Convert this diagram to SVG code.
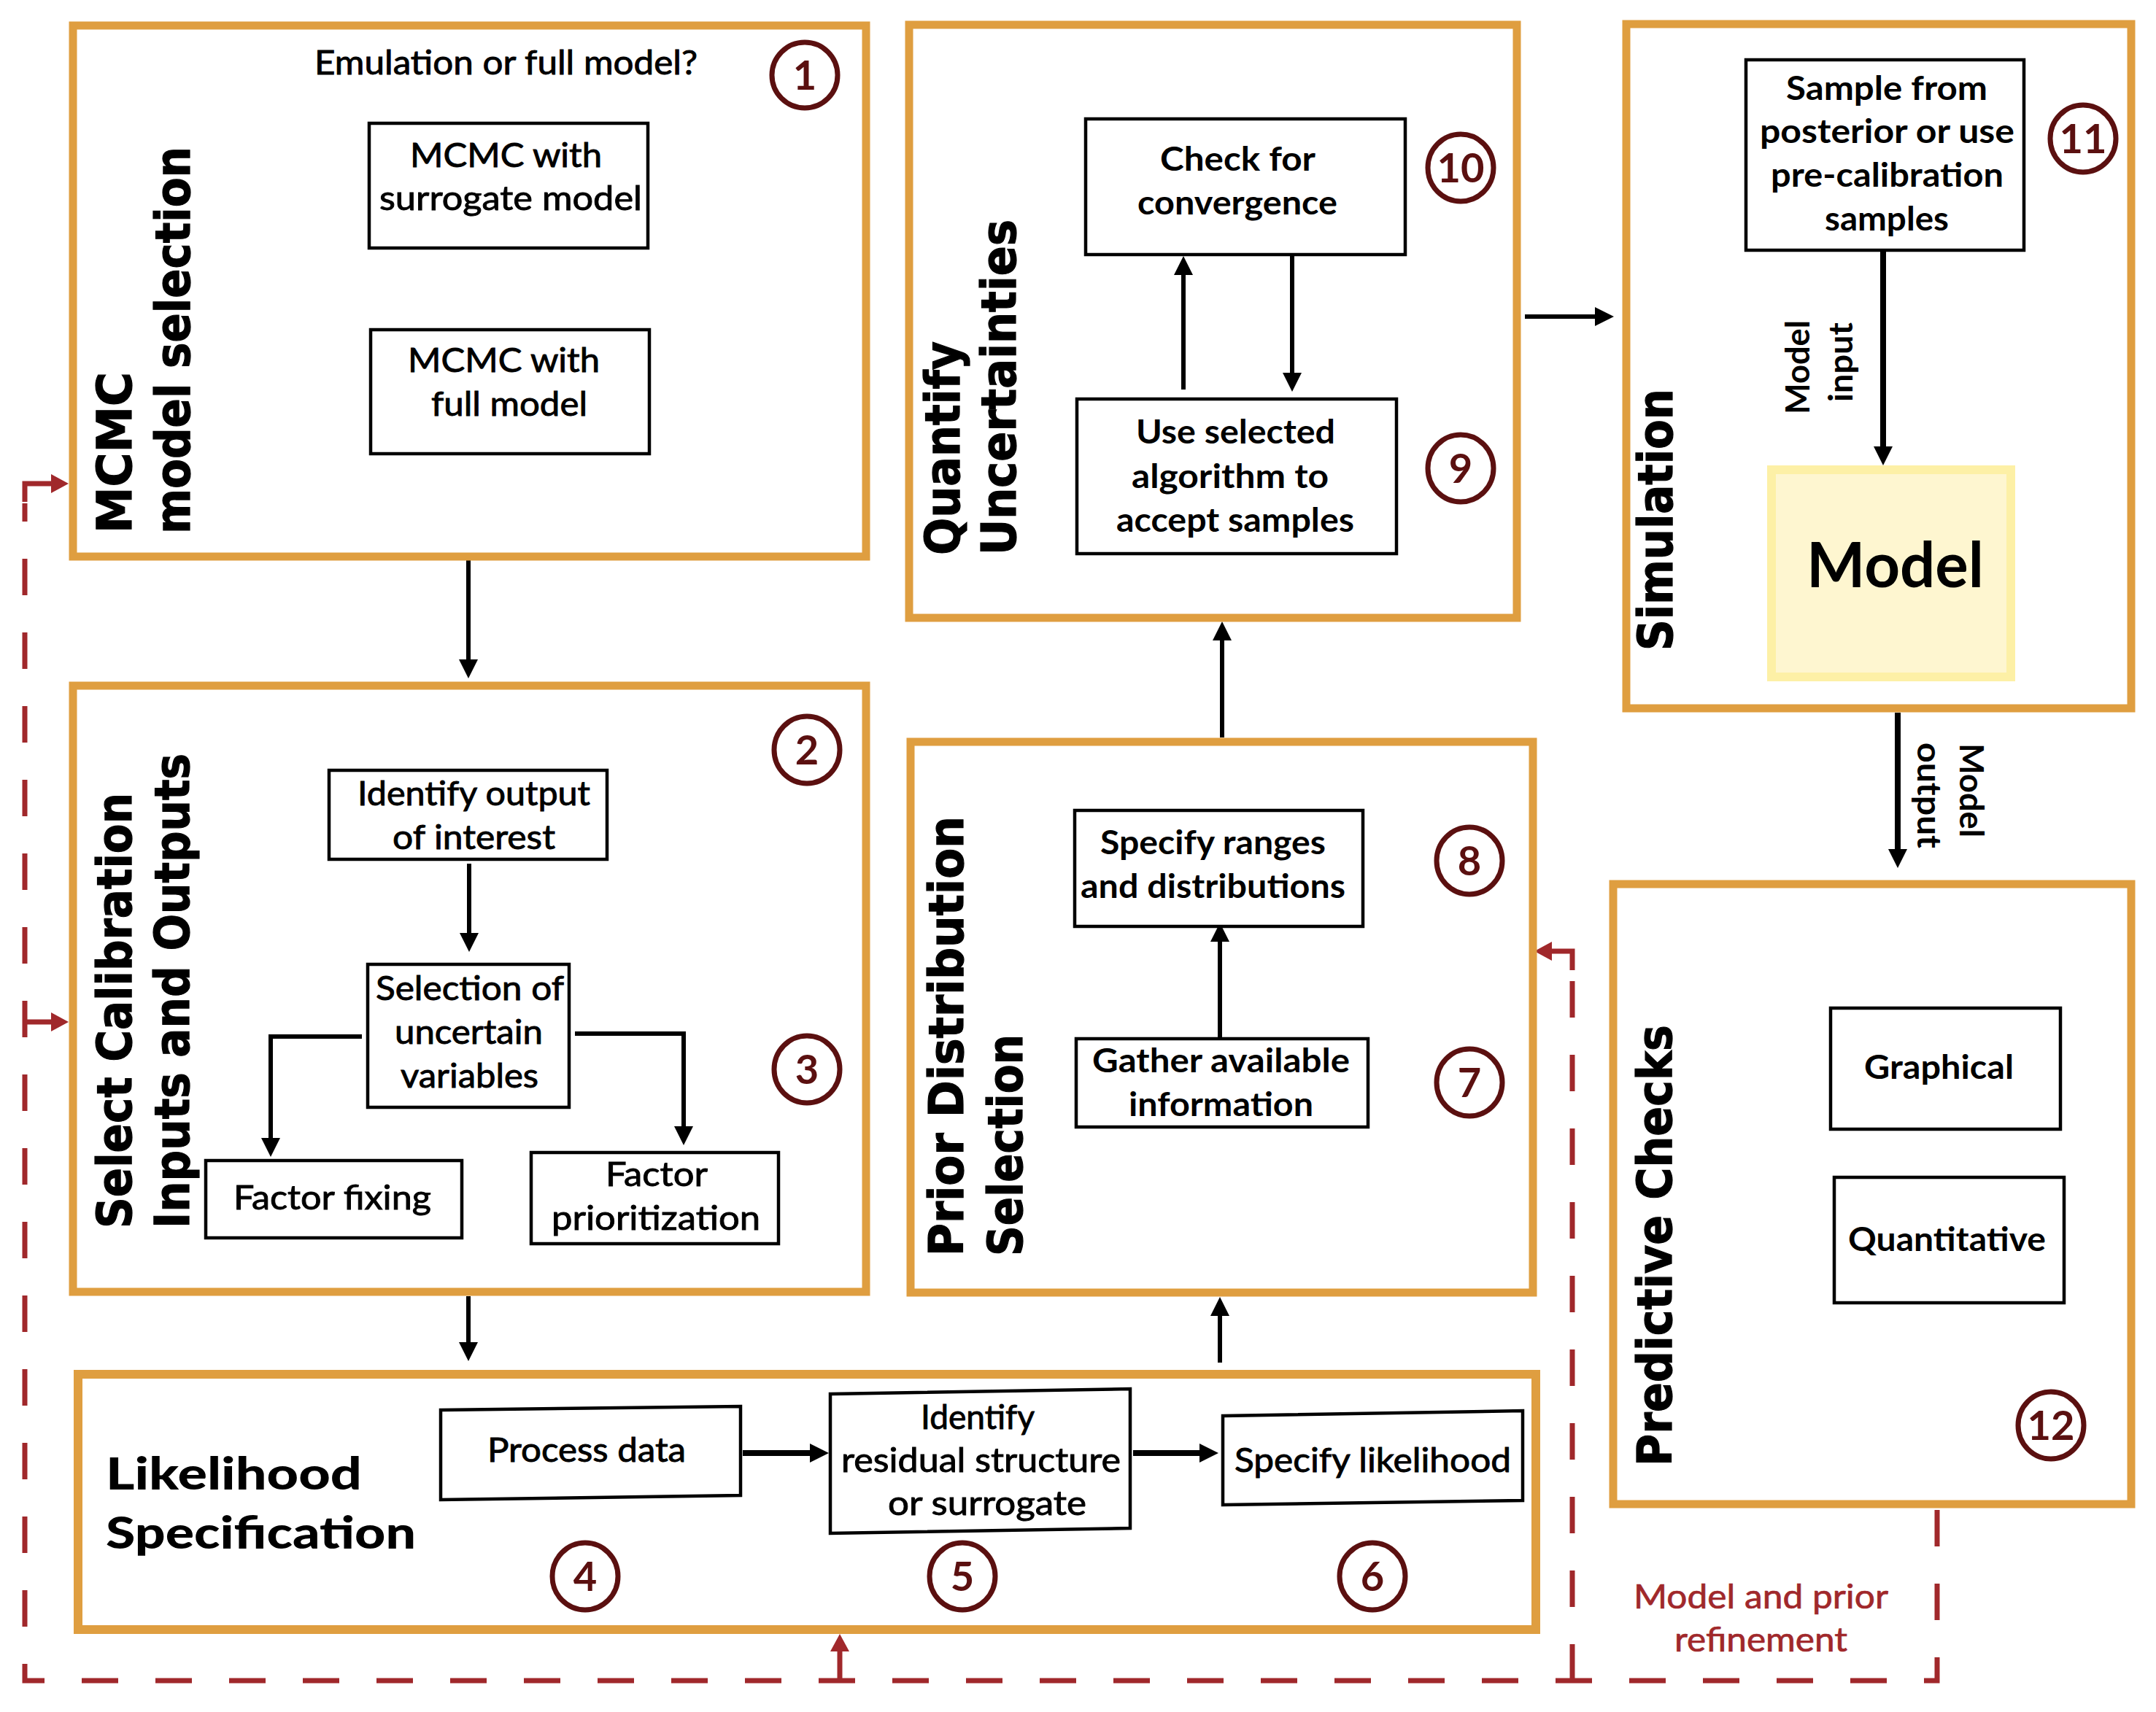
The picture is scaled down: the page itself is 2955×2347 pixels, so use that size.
<svg xmlns="http://www.w3.org/2000/svg" width="2955" height="2347" viewBox="0 0 2955 2347">
<style>
.ob{fill:none;stroke:#DF9E40;stroke-width:11}
.bb{fill:#fff;stroke:#000;stroke-width:4.5}
.circ{fill:none;stroke:#5B1010;stroke-width:7}
.num{font-family:Lato,'Open Sans',sans-serif;font-weight:700;font-size:56px;fill:#5B1010;text-anchor:middle}
.t{font-family:Lato,'Open Sans',sans-serif;font-size:46px;fill:#000;stroke:#000;stroke-width:0.9}
.tb{font-family:Lato,'Open Sans',sans-serif;font-weight:700;font-size:46px;fill:#000}
.vt{font-family:'DejaVu Sans',Verdana,sans-serif;font-weight:700;font-size:66px;fill:#000;stroke:#000;stroke-width:1.2}
.lt{font-family:Lato,'Open Sans',sans-serif;font-weight:900;font-size:60px;fill:#000}
.rt{font-family:Lato,'Open Sans',sans-serif;font-size:46px;fill:#A0282B;stroke:#A0282B;stroke-width:0.7}
.ar{fill:none;stroke:#000;stroke-width:6;marker-end:url(#ah)}
.ar8{fill:none;stroke:#000;stroke-width:8;marker-end:url(#ah)}
.rd{fill:none;stroke:#A0282B;stroke-width:7;stroke-dasharray:50 51}
.ra{fill:none;stroke:#A0282B;stroke-width:7;marker-end:url(#ahr)}
</style>
<defs>
<marker id="ah" markerUnits="userSpaceOnUse" markerWidth="26" markerHeight="26" viewBox="0 0 26 26" refX="14" refY="13" orient="auto"><path d="M0,0 L26,13 L0,26 z" fill="#000"/></marker>
<marker id="ahr" markerUnits="userSpaceOnUse" markerWidth="24" markerHeight="26" viewBox="0 0 24 26" refX="14" refY="13" orient="auto"><path d="M0,0 L24,13 L0,26 z" fill="#A0282B"/></marker>
</defs>
<rect width="2955" height="2347" fill="#fff"/>

<g id="connectors">
<path class="ar" d="M642,768 V918"/>
<path class="ar" d="M642,1777 V1854"/>
<path class="ar" d="M1672,1868 V1790"/>
<path class="ar" d="M1675,1011 V864"/>
<path class="ar" d="M2090,434 H2200"/>
<path class="ar8" d="M2581,344 V626"/>
<path class="ar8" d="M2601,977 V1178"/>
<path class="ar" d="M1622,534 V363"/>
<path class="ar" d="M1771,350 V525"/>
<path class="ar" d="M643,1184 V1293"/>
<path class="ar" d="M496,1421 H371 V1574"/>
<path class="ar" d="M788,1417 H937 V1558"/>
<path class="ar" d="M1672,1422 V1277"/>
<path class="ar8" d="M1018,1992 H1124"/>
<path class="ar8" d="M1553,1992 H1658"/>
<path class="rd" d="M2655,2070 V2304 H34 V690"/>
<path class="rd" d="M2155,2304 V1330"/>
<path class="ra" d="M34,688 V663 H84"/>
<path class="ra" d="M34,1401 H84"/>
<path class="ra" d="M1151,2304 V2250"/>
<path class="ra" d="M2155,1330 V1304 H2113"/>
<text class="rt" x="2239" y="2205" textLength="349" lengthAdjust="spacingAndGlyphs">Model and prior</text>
<text class="rt" x="2295" y="2264" textLength="237" lengthAdjust="spacingAndGlyphs">refinement</text>
<text class="tb" transform="translate(2480,568) rotate(-90)" textLength="129" lengthAdjust="spacingAndGlyphs">Model</text>
<text class="tb" transform="translate(2539,551) rotate(-90)" textLength="109" lengthAdjust="spacingAndGlyphs">input</text>
<text class="tb" transform="translate(2686,1019) rotate(90)" textLength="129" lengthAdjust="spacingAndGlyphs">Model</text>
<text class="tb" transform="translate(2628,1018) rotate(90)" textLength="145" lengthAdjust="spacingAndGlyphs">output</text>
</g>

<g id="box1">
<rect class="ob" x="100" y="35" width="1087" height="728"/>
<text class="vt" transform="translate(180,731) rotate(-90)" textLength="221" lengthAdjust="spacingAndGlyphs">MCMC</text>
<text class="vt" transform="translate(260,732) rotate(-90)" textLength="531" lengthAdjust="spacingAndGlyphs">model selection</text>
<text class="t" x="431" y="102" textLength="525" lengthAdjust="spacingAndGlyphs">Emulation or full model?</text>
<ellipse class="circ" cx="1103" cy="103" rx="45" ry="45"/>
<text class="num" x="1103" y="123">1</text>
</g>
<g id="n-surrogate">
<rect class="bb" x="506" y="169" width="382" height="171"/>
<text class="t" x="562" y="229" textLength="263" lengthAdjust="spacingAndGlyphs">MCMC with</text>
<text class="t" x="520" y="288" textLength="360" lengthAdjust="spacingAndGlyphs">surrogate model</text>
</g>
<g id="n-full">
<rect class="bb" x="508" y="452" width="382" height="170"/>
<text class="t" x="559" y="510" textLength="263" lengthAdjust="spacingAndGlyphs">MCMC with</text>
<text class="t" x="591" y="570" textLength="214" lengthAdjust="spacingAndGlyphs">full model</text>
</g>

<g id="box2">
<rect class="ob" x="100" y="940" width="1087" height="831"/>
<text class="vt" transform="translate(180,1684) rotate(-90)" textLength="597" lengthAdjust="spacingAndGlyphs">Select Calibration</text>
<text class="vt" transform="translate(259,1684) rotate(-90)" textLength="651" lengthAdjust="spacingAndGlyphs">Inputs and Outputs</text>
<ellipse class="circ" cx="1106" cy="1028" rx="45" ry="46"/>
<text class="num" x="1106" y="1048">2</text>
<ellipse class="circ" cx="1106" cy="1466" rx="45" ry="46"/>
<text class="num" x="1106" y="1486">3</text>
</g>
<g id="n-identify-output">
<rect class="bb" x="451" y="1056" width="381" height="122"/>
<text class="t" x="490" y="1104" textLength="319" lengthAdjust="spacingAndGlyphs">Identify output</text>
<text class="t" x="538" y="1164" textLength="223" lengthAdjust="spacingAndGlyphs">of interest</text>
</g>
<g id="n-selection">
<rect class="bb" x="504" y="1322" width="276" height="196"/>
<text class="t" x="515" y="1371" textLength="258" lengthAdjust="spacingAndGlyphs">Selection of</text>
<text class="t" x="541" y="1431" textLength="203" lengthAdjust="spacingAndGlyphs">uncertain</text>
<text class="t" x="549" y="1491" textLength="189" lengthAdjust="spacingAndGlyphs">variables</text>
</g>
<g id="n-factor-fixing">
<rect class="bb" x="282" y="1591" width="351" height="106"/>
<text class="t" x="320" y="1658" textLength="271" lengthAdjust="spacingAndGlyphs">Factor fixing</text>
</g>
<g id="n-factor-prior">
<rect class="bb" x="728" y="1580" width="339" height="125"/>
<text class="t" x="830" y="1626" textLength="140" lengthAdjust="spacingAndGlyphs">Factor</text>
<text class="t" x="756" y="1686" textLength="286" lengthAdjust="spacingAndGlyphs">prioritization</text>
</g>

<g id="box-qu">
<rect class="ob" x="1246" y="34" width="833" height="813"/>
<text class="vt" transform="translate(1315,761) rotate(-90)" textLength="293" lengthAdjust="spacingAndGlyphs">Quantify</text>
<text class="vt" transform="translate(1392,761) rotate(-90)" textLength="460" lengthAdjust="spacingAndGlyphs">Uncertainties</text>
<ellipse class="circ" cx="2002" cy="230" rx="45" ry="46"/>
<text class="num" x="2002" y="250">10</text>
<ellipse class="circ" cx="2002" cy="642" rx="45" ry="46"/>
<text class="num" x="2002" y="662">9</text>
</g>
<g id="n-check">
<rect class="bb" x="1488" y="163" width="438" height="186"/>
<text class="tb" x="1590" y="234" textLength="213" lengthAdjust="spacingAndGlyphs">Check for</text>
<text class="tb" x="1559" y="294" textLength="274" lengthAdjust="spacingAndGlyphs">convergence</text>
</g>
<g id="n-use">
<rect class="bb" x="1476" y="547" width="438" height="212"/>
<text class="tb" x="1557" y="608" textLength="273" lengthAdjust="spacingAndGlyphs">Use selected</text>
<text class="tb" x="1551" y="669" textLength="270" lengthAdjust="spacingAndGlyphs">algorithm to</text>
<text class="tb" x="1530" y="729" textLength="326" lengthAdjust="spacingAndGlyphs">accept samples</text>
</g>

<g id="box-sim">
<rect class="ob" x="2229" y="33" width="692" height="938"/>
<text class="vt" transform="translate(2292,892) rotate(-90)" textLength="359" lengthAdjust="spacingAndGlyphs">Simulation</text>
<ellipse class="circ" cx="2855" cy="190" rx="45" ry="46"/>
<text class="num" x="2855" y="210">11</text>
</g>
<g id="n-sample">
<rect class="bb" x="2393" y="82" width="381" height="261"/>
<text class="tb" x="2448" y="137" textLength="276" lengthAdjust="spacingAndGlyphs">Sample from</text>
<text class="tb" x="2412" y="196" textLength="349" lengthAdjust="spacingAndGlyphs">posterior or use</text>
<text class="tb" x="2427" y="256" textLength="319" lengthAdjust="spacingAndGlyphs">pre-calibration</text>
<text class="tb" x="2501" y="316" textLength="170" lengthAdjust="spacingAndGlyphs">samples</text>
</g>
<g id="n-model">
<rect x="2428" y="644" width="328" height="284" fill="#FEF6D0" stroke="#FDF0A6" stroke-width="12"/>
<text class="tb" x="2476" y="805" style="font-size:86px" textLength="243" lengthAdjust="spacingAndGlyphs">Model</text>
</g>

<g id="box-pds">
<rect class="ob" x="1248" y="1017" width="853" height="755"/>
<text class="vt" transform="translate(1320,1722) rotate(-90)" textLength="603" lengthAdjust="spacingAndGlyphs">Prior Distribution</text>
<text class="vt" transform="translate(1401,1722) rotate(-90)" textLength="304" lengthAdjust="spacingAndGlyphs">Selection</text>
<ellipse class="circ" cx="2014" cy="1180" rx="45" ry="46"/>
<text class="num" x="2014" y="1200">8</text>
<ellipse class="circ" cx="2014" cy="1484" rx="45" ry="46"/>
<text class="num" x="2014" y="1504">7</text>
</g>
<g id="n-specify-ranges">
<rect class="bb" x="1473" y="1111" width="395" height="159"/>
<text class="tb" x="1508" y="1171" textLength="309" lengthAdjust="spacingAndGlyphs">Specify ranges</text>
<text class="tb" x="1481" y="1231" textLength="363" lengthAdjust="spacingAndGlyphs">and distributions</text>
</g>
<g id="n-gather">
<rect class="bb" x="1475" y="1424" width="400" height="121"/>
<text class="tb" x="1497" y="1470" textLength="353" lengthAdjust="spacingAndGlyphs">Gather available</text>
<text class="tb" x="1547" y="1530" textLength="253" lengthAdjust="spacingAndGlyphs">information</text>
</g>

<g id="box-pred">
<rect class="ob" x="2211" y="1212" width="710" height="850"/>
<text class="vt" transform="translate(2291,2010) rotate(-90)" textLength="605" lengthAdjust="spacingAndGlyphs">Predictive Checks</text>
<ellipse class="circ" cx="2811" cy="1954" rx="45" ry="46"/>
<text class="num" x="2811" y="1974">12</text>
</g>
<g id="n-graphical">
<rect class="bb" x="2509" y="1382" width="315" height="166"/>
<text class="tb" x="2555" y="1479" textLength="205" lengthAdjust="spacingAndGlyphs">Graphical</text>
</g>
<g id="n-quant">
<rect class="bb" x="2514" y="1614" width="315" height="172"/>
<text class="tb" x="2533" y="1715" textLength="271" lengthAdjust="spacingAndGlyphs">Quantitative</text>
</g>

<g id="box-lik">
<rect class="ob" x="107" y="1884" width="1998" height="350" style="stroke-width:12"/>
<text class="lt" x="145" y="2042" textLength="351" lengthAdjust="spacingAndGlyphs">Likelihood</text>
<text class="lt" x="145" y="2123" textLength="425" lengthAdjust="spacingAndGlyphs">Specification</text>
<ellipse class="circ" cx="802" cy="2161" rx="45" ry="46"/>
<text class="num" x="802" y="2181">4</text>
<ellipse class="circ" cx="1319" cy="2161" rx="45" ry="46"/>
<text class="num" x="1319" y="2181">5</text>
<ellipse class="circ" cx="1881" cy="2161" rx="45" ry="46"/>
<text class="num" x="1881" y="2181">6</text>
</g>
<g id="n-process">
<polygon class="bb" points="604,1933 1015,1928 1015,2050 604,2056"/>
<text class="t" x="668" y="2004" textLength="272" lengthAdjust="spacingAndGlyphs">Process data</text>
</g>
<g id="n-residual">
<polygon class="bb" points="1138,1911 1549,1904 1549,2095 1138,2102"/>
<text class="t" x="1262" y="1959" textLength="156" lengthAdjust="spacingAndGlyphs">Identify</text>
<text class="t" x="1153" y="2018" textLength="383" lengthAdjust="spacingAndGlyphs">residual structure</text>
<text class="t" x="1217" y="2077" textLength="272" lengthAdjust="spacingAndGlyphs">or surrogate</text>
</g>
<g id="n-specify-lik">
<polygon class="bb" points="1676,1941 2087,1934 2087,2057 1676,2063"/>
<text class="t" x="1692" y="2018" textLength="379" lengthAdjust="spacingAndGlyphs">Specify likelihood</text>
</g>
</svg>
